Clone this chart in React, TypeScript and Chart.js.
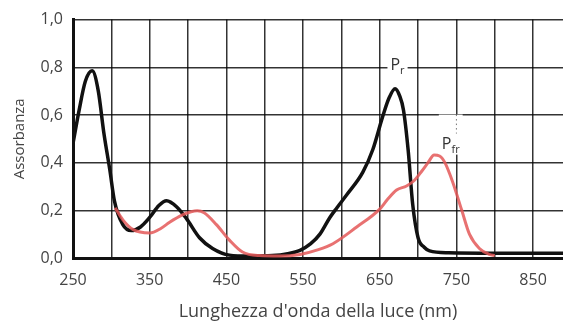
import React, { useEffect, useRef } from "react";
import { Chart, registerables } from "chart.js";

Chart.register(...registerables);

// Wavelength (nm) and absorbance for Pr (black)
const prWavelength = [250, 258, 266, 275, 283, 290, 298, 304, 315, 326, 338, 350, 362, 372, 385, 398, 415, 432, 454, 480, 510, 530, 546, 560, 572, 585, 594, 607, 628, 641, 654, 662, 670, 676, 681, 687, 693, 700, 708, 715, 740, 800, 889];
const prAbsorbance = [0.48, 0.62, 0.74, 0.785, 0.7, 0.53, 0.37, 0.24, 0.14, 0.115, 0.13, 0.17, 0.22, 0.24, 0.215, 0.165, 0.085, 0.04, 0.012, 0.008, 0.01, 0.018, 0.032, 0.06, 0.1, 0.17, 0.21, 0.265, 0.36, 0.455, 0.595, 0.67, 0.71, 0.68, 0.62, 0.455, 0.225, 0.085, 0.045, 0.03, 0.022, 0.02, 0.02];

// Wavelength (nm) and absorbance for Pfr (red)
const pfrWavelength = [305, 315, 328, 350, 365, 376, 392, 404, 412, 421, 437, 454, 471, 493, 520, 546, 570, 589, 620, 650, 660, 672, 685, 695, 705, 713, 721, 728, 735, 745, 757, 767, 780, 793, 800];
const pfrAbsorbance = [0.21, 0.16, 0.12, 0.105, 0.125, 0.15, 0.18, 0.194, 0.198, 0.19, 0.14, 0.075, 0.025, 0.01, 0.008, 0.015, 0.035, 0.06, 0.13, 0.205, 0.245, 0.285, 0.302, 0.325, 0.365, 0.4, 0.432, 0.428, 0.4, 0.32, 0.2, 0.1, 0.04, 0.015, 0.01];

// Axis ticks
const xTicks = [250, 300, 350, 400, 450, 500, 550, 600, 650, 700, 750, 800, 850];
const xLabelTicks = [250, 350, 450, 550, 650, 750, 850];
const yTicks = [0, 0.2, 0.4, 0.6, 0.8, 1.0];

// Curve labels (text, subscript, anchor in data units)
const curveLabels = [
  { text: "P", sub: "r", x: 664, y: 0.787, tall: false },
  { text: "P", sub: "fr", x: 731, y: 0.459, tall: true },
];

const FONT = "'Open Sans', 'DejaVu Sans', sans-serif";

const labelPlugin = {
  id: "curveLabels",
  beforeDatasetsDraw(chart: any) {
    const { ctx, scales } = chart;
    ctx.save();
    for (const l of curveLabels) {
      const px = scales.x.getPixelForValue(l.x);
      const py = scales.y.getPixelForValue(l.y);
      ctx.font = `16px ${FONT}`;
      const w1 = ctx.measureText(l.text).width;
      ctx.font = `11px ${FONT}`;
      const w2 = ctx.measureText(l.sub).width;
      const top = l.tall ? py - 34 : py - 15;
      ctx.fillStyle = "#ffffff";
      ctx.fillRect(px - 3, top, w1 + w2 + 6, py + 6 - top);
      if (l.tall) {
        const gx = scales.x.getPixelForValue(750);
        ctx.strokeStyle = "rgba(0,0,0,0.55)";
        ctx.lineWidth = 1;
        ctx.setLineDash([1.5, 3]);
        ctx.beginPath();
        ctx.moveTo(gx, top);
        ctx.lineTo(gx, py - 15);
        ctx.stroke();
        ctx.setLineDash([]);
      }
    }
    ctx.restore();
  },
  afterDatasetsDraw(chart: any) {
    const { ctx, scales } = chart;
    ctx.save();
    ctx.fillStyle = "#333";
    ctx.textBaseline = "alphabetic";
    ctx.textAlign = "left";
    for (const l of curveLabels) {
      const px = scales.x.getPixelForValue(l.x);
      const py = scales.y.getPixelForValue(l.y);
      ctx.font = `16px ${FONT}`;
      ctx.fillText(l.text, px, py);
      const w1 = ctx.measureText(l.text).width;
      ctx.font = `11px ${FONT}`;
      ctx.fillText(l.sub, px + w1, py + 4);
    }
    ctx.restore();
  },
};

export default function App() {
  const ref = useRef<HTMLCanvasElement | null>(null);

  useEffect(() => {
    if (!ref.current) return;
    const chart = new Chart(ref.current, {
      type: "line",
      data: {
        datasets: [
          {
            label: "Pfr",
            data: pfrWavelength.map((x, i) => ({ x, y: pfrAbsorbance[i] })),
            borderColor: "rgba(228,88,88,0.85)",
            borderWidth: 3,
            pointRadius: 0,
            cubicInterpolationMode: "monotone",
            fill: false,
          },
          {
            label: "Pr",
            data: prWavelength.map((x, i) => ({ x, y: prAbsorbance[i] })),
            borderColor: "#111111",
            borderWidth: 3.5,
            pointRadius: 0,
            cubicInterpolationMode: "monotone",
            fill: false,
          },
        ],
      },
      options: {
        responsive: false,
        animation: false,
        events: [],
        layout: { padding: { top: 14, right: 0, left: 0, bottom: 0 } },
        plugins: {
          legend: { display: false },
          tooltip: { enabled: false },
        },
        scales: {
          x: {
            type: "linear",
            min: 250,
            max: 889,
            afterBuildTicks: (scale: any) => {
              scale.ticks = xTicks.map((v) => ({ value: v }));
            },
            afterFit: (scale: any) => {
              scale.height = 65;
            },
            grid: {
              color: "rgba(0,0,0,0.8)",
              lineWidth: 1.5,
              drawTicks: false,
            },
            border: { color: "#111", width: 3 },
            ticks: {
              padding: 13,
              color: "#444",
              font: { family: FONT, size: 16 },
              maxRotation: 0,
              autoSkip: false,
              callback: (v: any) => (xLabelTicks.includes(Number(v)) ? String(v) : ""),
            },
            title: {
              display: true,
              text: "Lunghezza d'onda della luce (nm)",
              color: "#444",
              font: { family: FONT, size: 18 },
              padding: { top: 0, bottom: 0 },
            },
          },
          y: {
            type: "linear",
            min: 0,
            max: 1,
            afterBuildTicks: (scale: any) => {
              scale.ticks = yTicks.map((v) => ({ value: v }));
            },
            afterFit: (scale: any) => {
              scale.width = 73;
            },
            grid: {
              color: "rgba(0,0,0,0.8)",
              lineWidth: 1.5,
              drawTicks: false,
            },
            border: { color: "#111", width: 3 },
            ticks: {
              padding: 10,
              color: "#444",
              font: { family: FONT, size: 16 },
              callback: (v: any) => Number(v).toFixed(1).replace(".", ","),
            },
            title: {
              display: true,
              text: "Assorbanza",
              color: "#444",
              font: { family: FONT, size: 15 },
              padding: { top: 11, bottom: 0 },
            },
          },
        },
      },
      plugins: [labelPlugin],
    });
    return () => chart.destroy();
  }, []);

  return (
    <div style={{ position: "absolute", left: 0, top: 0, width: 563, height: 323, background: "#fff" }}>
      <canvas ref={ref} width={563} height={323} />
    </div>
  );
}
